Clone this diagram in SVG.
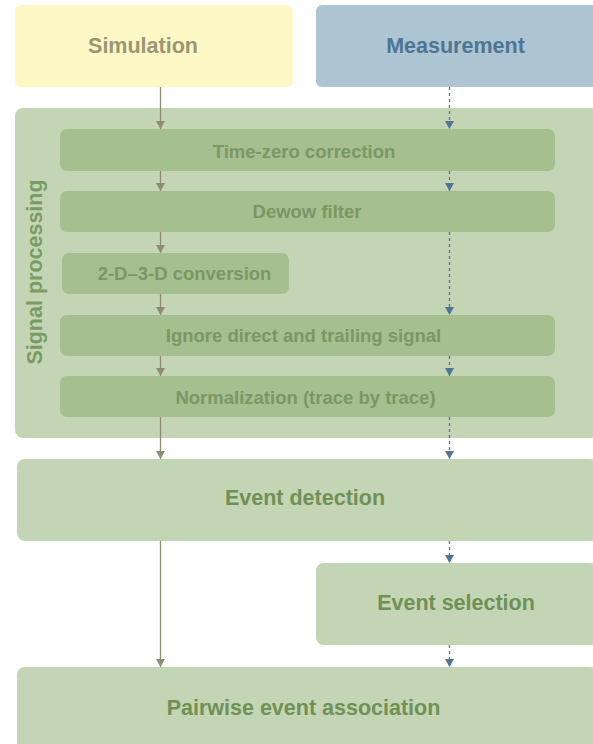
<svg xmlns="http://www.w3.org/2000/svg" width="593" height="744" viewBox="0 0 593 744">
<defs>
<style>
text{font-family:"Liberation Sans",Arial,sans-serif;font-weight:bold;text-anchor:middle;dominant-baseline:central}
.outer{fill:#c4d5b5}
.inner{fill:#a6bf8f}
.itext{fill:#7a9764;font-size:18.5px}
.otext{fill:#6f9155;font-size:21.5px}
.sim{stroke:#8e8b72;stroke-width:1.3;fill:none}
.meas{stroke:#4e7594;stroke-width:1.3;fill:none;stroke-dasharray:3 3}
</style>
<marker id="ah-sim" viewBox="0 0 8 9" refX="8" refY="4.5" markerWidth="8" markerHeight="9" markerUnits="userSpaceOnUse" orient="auto"><path d="M0,0 L8,4.5 L0,9 z" fill="#8e8b72"/></marker>
<marker id="ah-meas" viewBox="0 0 8 9" refX="8" refY="4.5" markerWidth="8" markerHeight="9" markerUnits="userSpaceOnUse" orient="auto"><path d="M0,0 L8,4.5 L0,9 z" fill="#4e7594"/></marker>
</defs>
<rect width="593" height="744" fill="#ffffff"/>
<g id="simulation"><rect x="15" y="5" width="278" height="82" rx="6" fill="#fef8c7"/><text x="143" y="45.5" font-size="21.5" fill="#9a9774">Simulation</text></g>
<g id="measurement"><rect x="316" y="5" width="282" height="82" rx="6" fill="#adc4d3"/><text x="455.5" y="45.5" font-size="21.5" fill="#4e7594">Measurement</text></g>
<g id="signal-processing"><rect x="15" y="108" width="583" height="330" rx="8" class="outer"/><text transform="translate(35 272) rotate(-90)" font-size="21.5" fill="#7a9c62">Signal processing</text></g>
<g id="time-zero"><rect x="60" y="129" width="495" height="42" rx="7" class="inner"/><text x="304" y="151" class="itext">Time-zero correction</text></g>
<g id="dewow"><rect x="60" y="191" width="495" height="41" rx="7" class="inner"/><text x="307" y="211" class="itext">Dewow filter</text></g>
<g id="conversion"><rect x="62" y="253" width="227" height="41" rx="7" class="inner"/><text x="184.5" y="273" class="itext">2-D–3-D conversion</text></g>
<g id="ignore"><rect x="60" y="315" width="495" height="41" rx="7" class="inner"/><text x="303.5" y="335" class="itext">Ignore direct and trailing signal</text></g>
<g id="normalization"><rect x="60" y="376" width="495" height="41" rx="7" class="inner"/><text x="305.5" y="397" class="itext">Normalization (trace by trace)</text></g>
<g id="event-detection"><rect x="17" y="459" width="581" height="82" rx="8" class="outer"/><text x="305" y="498" class="otext">Event detection</text></g>
<g id="event-selection"><rect x="316" y="563" width="282" height="82" rx="8" class="outer"/><text x="456" y="603" class="otext">Event selection</text></g>
<g id="pairwise"><rect x="17" y="667" width="581" height="90" rx="8" class="outer"/><text x="303.5" y="708" class="otext">Pairwise event association</text></g>
<g id="connectors">
<path class="sim" d="M160.5,87 V129" marker-end="url(#ah-sim)"/>
<path class="sim" d="M160.5,171 V191" marker-end="url(#ah-sim)"/>
<path class="sim" d="M160.5,232 V253" marker-end="url(#ah-sim)"/>
<path class="sim" d="M160.5,294 V315" marker-end="url(#ah-sim)"/>
<path class="sim" d="M160.5,356 V376" marker-end="url(#ah-sim)"/>
<path class="sim" d="M160.5,417 V459" marker-end="url(#ah-sim)"/>
<path class="sim" d="M160.5,541 V667" marker-end="url(#ah-sim)"/>
<path class="meas" d="M449.5,87 V129" marker-end="url(#ah-meas)"/>
<path class="meas" d="M449.5,171 V191" marker-end="url(#ah-meas)"/>
<path class="meas" d="M449.5,232 V315" marker-end="url(#ah-meas)"/>
<path class="meas" d="M449.5,356 V376" marker-end="url(#ah-meas)"/>
<path class="meas" d="M449.5,417 V459" marker-end="url(#ah-meas)"/>
<path class="meas" d="M449.5,541 V563" marker-end="url(#ah-meas)"/>
<path class="meas" d="M449.5,645 V667" marker-end="url(#ah-meas)"/>
</g>
</svg>
